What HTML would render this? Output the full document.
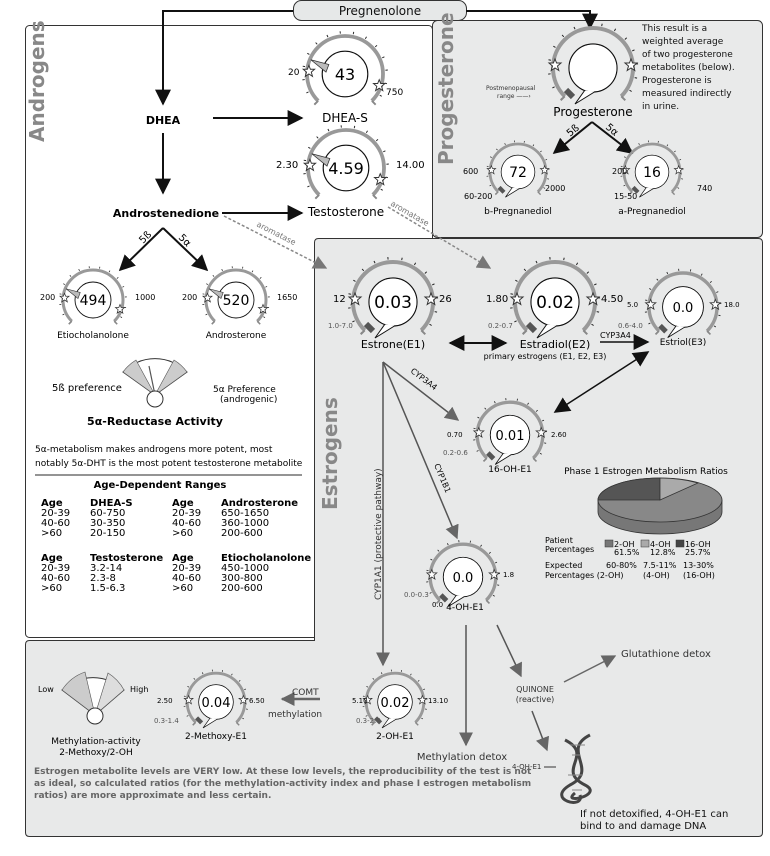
<!DOCTYPE html>
<html><head><meta charset="utf-8"><style>
html,body{margin:0;padding:0;background:#fff;}
svg{display:block;font-family:"DejaVu Sans","Liberation Sans",sans-serif;}
</style></head><body>
<svg width="770" height="856" viewBox="0 0 770 856" xmlns="http://www.w3.org/2000/svg">
<defs>
<marker id="ah" viewBox="0 0 10 10" refX="9" refY="5" markerWidth="6" markerHeight="6" orient="auto-start-reverse" markerUnits="userSpaceOnUse"><path d="M0 0L10 5L0 10z" fill="#111"/></marker>
<marker id="ahb" viewBox="0 0 10 10" refX="9" refY="5" markerWidth="16" markerHeight="16" orient="auto-start-reverse" markerUnits="userSpaceOnUse"><path d="M0 0L10 5L0 10z" fill="#111"/></marker>
<marker id="ahg" viewBox="0 0 10 10" refX="9" refY="5" markerWidth="14" markerHeight="14" orient="auto" markerUnits="userSpaceOnUse"><path d="M0 0L10 5L0 10z" fill="#666"/></marker>
<marker id="ahd" viewBox="0 0 10 10" refX="9" refY="5" markerWidth="14" markerHeight="14" orient="auto" markerUnits="userSpaceOnUse"><path d="M0 0L10 5L0 10z" fill="#777"/></marker>
<polygon id="star" points="0,-6 1.6,-2 6,-2 2.5,1 3.8,5.5 0,3 -3.8,5.5 -2.5,1 -6,-2 -1.6,-2" fill="#fff" stroke="#333" stroke-width="1"/>
<g id="gbase">
 <path d="M-28.28 28.28A40 40 0 1 1 28.28 28.28" fill="none" stroke="#999" stroke-width="4"/>
 <path d="M-31.1 31.1A44 44 0 1 1 31.1 31.1" fill="none" stroke="#222" stroke-width="2.5" stroke-dasharray="1 13"/>
 <path d="M-28.28 28.28l-4 4M28.28 28.28l4 4" stroke="#888" stroke-width="2"/>
 <circle r="24" fill="#fff" stroke="#111" stroke-width="1.2"/>
</g>
<g id="gA"><use href="#gbase"/><path d="M-36 -15L-17 -10L-20 -2z" fill="#bbb" stroke="#333" stroke-width="0.8"/><use href="#star" x="-38" y="-3"/><use href="#star" x="36" y="12"/></g>
<g id="gE"><use href="#gbase"/><path d="M-27 22l7 7" stroke="#555" stroke-width="6"/><path d="M-18 36L-8 22L3 23z" fill="#fff" stroke="#111" stroke-width="1"/><circle r="23.4" fill="#fff"/><use href="#star" x="-38" y="-3"/><use href="#star" x="38" y="-3"/></g>
</defs>

<rect x="293.5" y="0.5" width="173" height="20" rx="8" fill="#e6e8e8" stroke="#333"/>
<rect x="25.5" y="25.5" width="407" height="612" rx="4" fill="#fff" stroke="#333"/>
<rect x="432.5" y="20.5" width="330" height="217" rx="5" fill="#e9eaea" stroke="#333"/>
<path d="M318.5 238.5H758.5Q762.5 238.5 762.5 242.5V832.5Q762.5 836.5 758.5 836.5H29.5Q25.5 836.5 25.5 832.5V644.5Q25.5 640.5 29.5 640.5H314.5V242.5Q314.5 238.5 318.5 238.5z" fill="#e8e9e9" stroke="#333"/>

<text transform="translate(44,142) rotate(-90)" font-size="20" font-weight="bold" fill="#888">Androgens</text>
<text transform="translate(453,165) rotate(-90)" font-size="20" font-weight="bold" fill="#888">Progesterone</text>
<text transform="translate(337,510) rotate(-90)" font-size="20" font-weight="bold" fill="#888">Estrogens</text>

<text x="380" y="15" font-size="12" text-anchor="middle" fill="#111">Pregnenolone</text>

<path d="M293 11H163V104" fill="none" stroke="#111" stroke-width="2" marker-end="url(#ahb)"/>
<path d="M466 11H590V28" fill="none" stroke="#111" stroke-width="2" marker-end="url(#ahb)"/>
<text x="163" y="124" font-size="11" font-weight="bold" text-anchor="middle">DHEA</text>
<line x1="213" y1="118" x2="302" y2="118" stroke="#111" stroke-width="2" marker-end="url(#ahb)"/>
<line x1="163" y1="133" x2="163" y2="193" stroke="#111" stroke-width="2" marker-end="url(#ahb)"/>
<text x="166" y="217" font-size="11" font-weight="bold" text-anchor="middle">Androstenedione</text>
<line x1="222" y1="213" x2="302" y2="213" stroke="#111" stroke-width="2" marker-end="url(#ahb)"/>
<line x1="163" y1="228" x2="120" y2="270" stroke="#111" stroke-width="2" marker-end="url(#ahb)"/>
<line x1="163" y1="228" x2="207" y2="270" stroke="#111" stroke-width="2" marker-end="url(#ahb)"/>
<text transform="translate(143,244) rotate(-45)" font-size="10">5ß</text>
<text transform="translate(178,238) rotate(45)" font-size="10">5α</text>
<line x1="224" y1="216" x2="326" y2="268" stroke="#888" stroke-width="1.5" stroke-dasharray="3 2" marker-end="url(#ahd)"/>
<text transform="translate(256,226) rotate(27)" font-size="8" fill="#777">aromatase</text>
<line x1="388" y1="207" x2="490" y2="268" stroke="#888" stroke-width="1.5" stroke-dasharray="3 2" marker-end="url(#ahd)"/>
<text transform="translate(390,205) rotate(30)" font-size="8" fill="#777">aromatase</text>

<use href="#gA" transform="translate(345,74) scale(0.95)"/>
<text x="345" y="80" font-size="16" text-anchor="middle">43</text>
<text x="288" y="75" font-size="9">20</text><text x="386" y="95" font-size="9">750</text>
<text x="345" y="122" font-size="12" text-anchor="middle">DHEA-S</text>
<use href="#gA" transform="translate(346,168) scale(0.95)"/>
<text x="346" y="174" font-size="16" text-anchor="middle">4.59</text>
<text x="276" y="168" font-size="10">2.30</text><text x="396" y="168" font-size="10">14.00</text>
<text x="346" y="216" font-size="12" text-anchor="middle">Testosterone</text>
<use href="#gA" transform="translate(93,300) scale(0.75)"/>
<text x="93" y="305" font-size="14" text-anchor="middle">494</text>
<text x="40" y="300" font-size="8">200</text><text x="135" y="300" font-size="8">1000</text>
<text x="93" y="338" font-size="9" text-anchor="middle">Etiocholanolone</text>
<use href="#gA" transform="translate(236,300) scale(0.75)"/>
<text x="236" y="305" font-size="14" text-anchor="middle">520</text>
<text x="182" y="300" font-size="8">200</text><text x="277" y="300" font-size="8">1650</text>
<text x="236" y="338" font-size="9" text-anchor="middle">Androsterone</text>

<path d="M155 395L123 372A45 45 0 0 1 187 372z" fill="#fff" stroke="#333"/>
<path d="M155 395L123 372A45 45 0 0 1 136 360z" fill="#ccc" stroke="#555" stroke-width="0.6"/>
<path d="M155 395L174 360A45 45 0 0 1 187 372z" fill="#ccc" stroke="#555" stroke-width="0.6"/>
<line x1="155" y1="395" x2="149" y2="366" stroke="#555" stroke-width="1.2"/>
<circle cx="155" cy="399" r="8" fill="#fff" stroke="#333"/>
<text x="52" y="391" font-size="10">5ß preference</text>
<text x="213" y="392" font-size="9">5α Preference</text><text x="220" y="402" font-size="9">(androgenic)</text>
<text x="155" y="425" font-size="11" font-weight="bold" text-anchor="middle">5α-Reductase Activity</text>
<text x="35" y="452" font-size="9">5α-metabolism makes androgens more potent, most</text>
<text x="35" y="466" font-size="9">notably 5α-DHT is the most potent testosterone metabolite</text>
<line x1="35" y1="475" x2="302" y2="475" stroke="#555" stroke-width="1.2"/>
<text x="160" y="488" font-size="10" font-weight="bold" text-anchor="middle">Age-Dependent Ranges</text>
<g font-size="10">
<text x="41" y="506" font-weight="bold">Age</text><text x="90" y="506" font-weight="bold">DHEA-S</text><text x="172" y="506" font-weight="bold">Age</text><text x="221" y="506" font-weight="bold">Androsterone</text>
<text x="41" y="516">20-39</text><text x="90" y="516">60-750</text><text x="172" y="516">20-39</text><text x="221" y="516">650-1650</text>
<text x="41" y="526">40-60</text><text x="90" y="526">30-350</text><text x="172" y="526">40-60</text><text x="221" y="526">360-1000</text>
<text x="41" y="536">&gt;60</text><text x="90" y="536">20-150</text><text x="172" y="536">&gt;60</text><text x="221" y="536">200-600</text>
<text x="41" y="561" font-weight="bold">Age</text><text x="90" y="561" font-weight="bold">Testosterone</text><text x="172" y="561" font-weight="bold">Age</text><text x="221" y="561" font-weight="bold">Etiocholanolone</text>
<text x="41" y="571">20-39</text><text x="90" y="571">3.2-14</text><text x="172" y="571">20-39</text><text x="221" y="571">450-1000</text>
<text x="41" y="581">40-60</text><text x="90" y="581">2.3-8</text><text x="172" y="581">40-60</text><text x="221" y="581">300-800</text>
<text x="41" y="591">&gt;60</text><text x="90" y="591">1.5-6.3</text><text x="172" y="591">&gt;60</text><text x="221" y="591">200-600</text>
</g>

<use href="#gE" transform="translate(593,68)"/>
<text x="593" y="116" font-size="12" text-anchor="middle">Progesterone</text>
<text x="486" y="90" font-size="6" fill="#333">Postmenopausal</text>
<text x="497" y="98" font-size="6" fill="#333">range ——›</text>
<g font-size="9" fill="#111"><text x="642" y="31">This result is a</text><text x="642" y="44">weighted average</text><text x="642" y="57">of two progesterone</text><text x="642" y="70">metabolites (below).</text><text x="642" y="83">Progesterone is</text><text x="642" y="96">measured indirectly</text><text x="642" y="109">in urine.</text></g>
<line x1="592" y1="122" x2="554" y2="153" stroke="#111" stroke-width="2" marker-end="url(#ahb)"/>
<line x1="592" y1="122" x2="632" y2="153" stroke="#111" stroke-width="2" marker-end="url(#ahb)"/>
<text transform="translate(570,137) rotate(-40)" font-size="10">5ß</text>
<text transform="translate(605,128) rotate(40)" font-size="10">5α</text>
<use href="#gE" transform="translate(518,172) scale(0.7)"/>
<text x="518" y="177" font-size="14" text-anchor="middle">72</text>
<text x="463" y="174" font-size="8">600</text><text x="545" y="191" font-size="8">2000</text><text x="464" y="199" font-size="8">60-200</text>
<text x="518" y="214" font-size="9" text-anchor="middle">b-Pregnanediol</text>
<use href="#gE" transform="translate(652,172) scale(0.7)"/>
<text x="652" y="177" font-size="14" text-anchor="middle">16</text>
<text x="612" y="174" font-size="8">200</text><text x="697" y="191" font-size="8">740</text><text x="614" y="199" font-size="8">15-50</text>
<text x="652" y="214" font-size="9" text-anchor="middle">a-Pregnanediol</text>

<use href="#gE" transform="translate(393,302)"/>
<text x="393" y="308" font-size="17" text-anchor="middle">0.03</text>
<text x="333" y="302" font-size="10">12</text><text x="439" y="302" font-size="10">26</text><text x="328" y="328" font-size="7" fill="#555">1.0-7.0</text>
<text x="393" y="348" font-size="11" text-anchor="middle">Estrone(E1)</text>
<use href="#gE" transform="translate(555,302)"/>
<text x="555" y="308" font-size="17" text-anchor="middle">0.02</text>
<text x="486" y="302" font-size="10">1.80</text><text x="601" y="302" font-size="10">4.50</text><text x="488" y="328" font-size="7" fill="#555">0.2-0.7</text>
<text x="555" y="348" font-size="11" text-anchor="middle">Estradiol(E2)</text>
<use href="#gE" transform="translate(683,307) scale(0.85)"/>
<text x="683" y="312" font-size="13" text-anchor="middle">0.0</text>
<text x="627" y="307" font-size="7">5.0</text><text x="724" y="307" font-size="7">18.0</text><text x="618" y="328" font-size="7" fill="#555">0.6-4.0</text>
<text x="683" y="345" font-size="9" text-anchor="middle">Estriol(E3)</text>
<line x1="450" y1="343" x2="506" y2="343" stroke="#111" stroke-width="2" marker-start="url(#ahb)" marker-end="url(#ahb)"/>
<text x="545" y="359" font-size="8" text-anchor="middle">primary estrogens (E1, E2, E3)</text>
<line x1="600" y1="342" x2="648" y2="342" stroke="#111" stroke-width="1.5" marker-end="url(#ahb)"/>
<text x="600" y="338" font-size="8">CYP3A4</text>
<line x1="555" y1="412" x2="648" y2="352" stroke="#111" stroke-width="1.5" marker-start="url(#ahb)" marker-end="url(#ahb)"/>
<line x1="383" y1="362" x2="458" y2="420" stroke="#555" stroke-width="1.5" marker-end="url(#ahg)"/>
<text transform="translate(410,372) rotate(37)" font-size="8">CYP3A4</text>
<line x1="383" y1="362" x2="457" y2="538" stroke="#555" stroke-width="1.5" marker-end="url(#ahg)"/>
<text transform="translate(434,465) rotate(67)" font-size="8">CYP1B1</text>
<line x1="383" y1="362" x2="383" y2="665" stroke="#555" stroke-width="1.5" marker-end="url(#ahg)"/>
<text transform="translate(381,600) rotate(-90)" font-size="9" fill="#333">CYP1A1 (protective pathway)</text>
<use href="#gE" transform="translate(510,435) scale(0.82)"/>
<text x="510" y="440" font-size="13" text-anchor="middle">0.01</text>
<text x="447" y="437" font-size="7">0.70</text><text x="551" y="437" font-size="7">2.60</text><text x="443" y="455" font-size="7" fill="#555">0.2-0.6</text>
<text x="510" y="472" font-size="9" text-anchor="middle">16-OH-E1</text>
<use href="#gE" transform="translate(463,577) scale(0.82)"/>
<text x="463" y="582" font-size="13" text-anchor="middle">0.0</text>
<text x="503" y="577" font-size="7">1.8</text><text x="404" y="597" font-size="7" fill="#555">0.0-0.3</text><text x="432" y="607" font-size="7">0.0</text>
<text x="465" y="610" font-size="9" text-anchor="middle">4-OH-E1</text>

<text x="646" y="474" font-size="9" text-anchor="middle">Phase 1 Estrogen Metabolism Ratios</text>
<path d="M598 500V512A62 22 0 0 0 722 512V500z" fill="#777" stroke="#333" stroke-width="0.8"/>
<ellipse cx="660" cy="500" rx="62" ry="22" fill="#888" stroke="#333" stroke-width="0.8"/>
<path d="M660 500L660 478A62 22 0 0 0 598 500z" fill="#555" stroke="#333" stroke-width="0.8"/>
<path d="M660 500L660 478A62 22 0 0 1 698 483z" fill="#aaa" stroke="#333" stroke-width="0.8"/>
<g font-size="8"><text x="545" y="543">Patient</text><text x="545" y="552">Percentages</text>
<rect x="605" y="540" width="8" height="7" fill="#777" stroke="#333" stroke-width="0.5"/><text x="614" y="547">2-OH</text>
<rect x="641" y="540" width="8" height="7" fill="#aaa" stroke="#333" stroke-width="0.5"/><text x="650" y="547">4-OH</text>
<rect x="676" y="540" width="8" height="7" fill="#444" stroke="#333" stroke-width="0.5"/><text x="685" y="547">16-OH</text>
<text x="614" y="555">61.5%</text><text x="650" y="555">12.8%</text><text x="685" y="555">25.7%</text>
<text x="545" y="568">Expected</text><text x="545" y="578">Percentages (2-OH)</text>
<text x="606" y="568">60-80%</text><text x="643" y="568">7.5-11%</text><text x="683" y="568">13-30%</text>
<text x="643" y="578">(4-OH)</text><text x="683" y="578">(16-OH)</text></g>

<line x1="466" y1="625" x2="466" y2="745" stroke="#555" stroke-width="1.5" marker-end="url(#ahg)"/>
<line x1="497" y1="625" x2="521" y2="676" stroke="#555" stroke-width="1.5" marker-end="url(#ahg)"/>
<text x="462" y="760" font-size="10" text-anchor="middle" fill="#333">Methylation detox</text>
<text x="535" y="692" font-size="8" text-anchor="middle" fill="#333">QUINONE</text>
<text x="535" y="702" font-size="8" text-anchor="middle" fill="#333">(reactive)</text>
<line x1="564" y1="682" x2="615" y2="656" stroke="#666" stroke-width="1.5" marker-end="url(#ahg)"/>
<text x="621" y="657" font-size="10" fill="#333">Glutathione detox</text>
<line x1="532" y1="711" x2="547" y2="750" stroke="#555" stroke-width="1.5" marker-end="url(#ahg)"/>
<text x="512" y="769" font-size="7" fill="#333">4-OH-E1</text><line x1="544" y1="767" x2="556" y2="767" stroke="#333"/>
<g stroke="#444" stroke-width="3" fill="none"><path d="M590 735C560 750 600 770 570 785C545 800 585 810 580 795"/><path d="M565 740C595 755 555 770 585 785C605 795 560 805 575 793"/></g>
<g stroke="#888" stroke-width="1"><line x1="570" y1="745" x2="585" y2="745"/><line x1="572" y1="755" x2="580" y2="755"/><line x1="568" y1="775" x2="583" y2="775"/><line x1="572" y1="790" x2="582" y2="790"/></g>
<text x="580" y="817" font-size="10" fill="#111">If not detoxified, 4-OH-E1 can</text>
<text x="580" y="829" font-size="10" fill="#111">bind to and damage DNA</text>

<use href="#gE" transform="translate(395,702) scale(0.72)"/>
<text x="395" y="707" font-size="13" text-anchor="middle">0.02</text>
<text x="352" y="703" font-size="7">5.10</text><text x="428" y="703" font-size="7">13.10</text><text x="356" y="723" font-size="7" fill="#555">0.3-2.0</text>
<text x="395" y="739" font-size="9" text-anchor="middle">2-OH-E1</text>
<line x1="320" y1="699" x2="282" y2="699" stroke="#666" stroke-width="2.5" marker-end="url(#ahg)"/>
<text x="292" y="695" font-size="9" fill="#333">COMT</text>
<text x="268" y="717" font-size="9" fill="#333">methylation</text>
<use href="#gE" transform="translate(216,702) scale(0.72)"/>
<text x="216" y="707" font-size="13" text-anchor="middle">0.04</text>
<text x="157" y="703" font-size="7">2.50</text><text x="249" y="703" font-size="7">6.50</text><text x="154" y="723" font-size="7" fill="#555">0.3-1.4</text>
<text x="216" y="739" font-size="9" text-anchor="middle">2-Methoxy-E1</text>

<path d="M95 715L62 690A45 45 0 0 1 124 690z" fill="#fff" stroke="#333"/>
<path d="M95 715L62 690A45 45 0 0 1 85 672z" fill="#ccc" stroke="#555" stroke-width="0.6"/>
<path d="M95 715L108 673A45 45 0 0 1 124 690z" fill="#ddd" stroke="#555" stroke-width="0.6"/>
<circle cx="95" cy="716" r="8" fill="#fff" stroke="#333"/>
<text x="38" y="692" font-size="8">Low</text><text x="130" y="692" font-size="8">High</text>
<text x="96" y="744" font-size="9" text-anchor="middle">Methylation-activity</text>
<text x="96" y="755" font-size="9" text-anchor="middle">2-Methoxy/2-OH</text>
<g font-size="9" font-weight="bold" fill="#666"><text x="34" y="774">Estrogen metabolite levels are VERY low. At these low levels, the reproducibility of the test is not</text>
<text x="34" y="786">as ideal, so calculated ratios (for the methylation-activity index and phase I estrogen metabolism</text>
<text x="34" y="798">ratios) are more approximate and less certain.</text></g>
</svg>
</body></html>
